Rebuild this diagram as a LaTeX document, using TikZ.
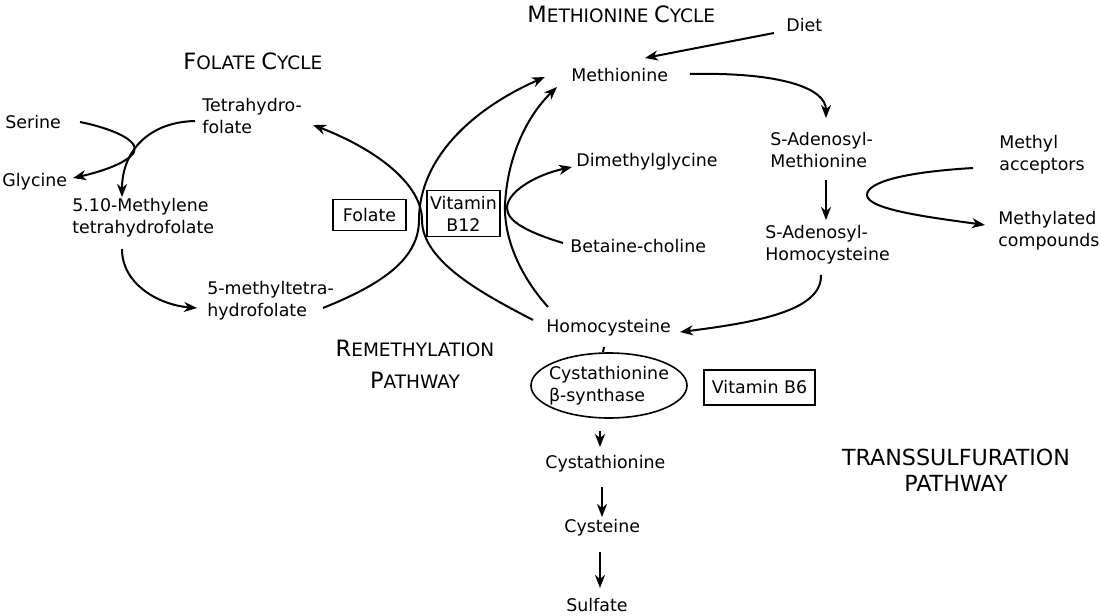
\documentclass[tikz,border=0pt]{standalone}
\usepackage{fontspec}
\setmainfont{DejaVu Sans}
\usetikzlibrary{arrows.meta,shapes.geometric}
\newcommand\bodyfont{\fontsize{8.7}{11}\selectfont}
\newcommand\mysc[2]{{\fontsize{11.25}{16}\selectfont #1}{\fontsize{9.25}{16}\selectfont #2}}
\begin{document}
\begin{tikzpicture}[x=0.5pt,y=-0.5pt,
  every node/.style={inner sep=0pt,font=\bodyfont},
  lbl/.style={anchor=west,align=left},
  boxed/.style={draw,line width=0.8pt,align=center},
  conn/.style={line width=1pt,-{Stealth[length=6.5pt,width=5pt,inset=2pt]}},
  plain/.style={line width=1pt},
  ttl/.style={anchor=west,align=center}]
\useasboundingbox (0,0) rectangle (1100,616);
% titles
\node[ttl] (tmet) at (527,14) {\mysc{M}{ETHIONINE} \mysc{C}{YCLE}};
\node[ttl] (tfol) at (183,61) {\mysc{F}{OLATE} \mysc{C}{YCLE}};
\node[align=center,font=\fontsize{9.25}{16}\selectfont] (trem) at (415,364) {\mysc{R}{EMETHYLATION}\\\mysc{P}{ATHWAY}};
\node[align=center,font=\fontsize{11.1}{13}\selectfont] (ttrans) at (956,470) {TRANSSULFURATION\\PATHWAY};
% nodes
\node[lbl] (diet) at (786,25) {Diet};
\node[lbl] (met) at (571,75) {Methionine};
\node[lbl] (sam) at (770,150) {S-Adenosyl-\\Methionine};
\node[lbl] (sah) at (765,245) {S-Adenosyl-\\Homocysteine};
\node[lbl] (macc) at (999,155) {Methyl\\acceptors};
\node[lbl] (mcomp) at (998,231) {Methylated\\compounds};
\node[lbl] (hcy) at (546,328) {Homocysteine};
\node[lbl] (dmg) at (576,162) {Dimethylglycine};
\node[lbl] (bet) at (570,246) {Betaine-choline};
\node[lbl] (ser) at (5,122) {Serine};
\node[lbl] (gly) at (2,182) {Glycine};
\node[lbl] (thf) at (202,116) {Tetrahydro-\\folate};
\node[lbl] (mthf) at (72,218) {5.10-Methylene\\tetrahydrofolate};
\node[lbl] (mtf) at (207,301) {5-methyltetra-\\hydrofolate};
\node[boxed,minimum width=36.5pt,minimum height=15.5pt] (fol) at (369.5,215) {Folate};
\node[boxed,minimum width=36.5pt,minimum height=23pt] (b12) at (463.5,213.5) {Vitamin\\B12};
\node[boxed,minimum width=55.5pt,minimum height=17.5pt] (b6) at (759.5,387.5) {Vitamin B6};
\node[draw,ellipse,line width=0.8pt,inner xsep=-2.4pt,inner ysep=1.5pt,minimum height=32.5pt,align=left] (cbs) at (609,385.5) {Cystathionine\\β-synthase};
\node[lbl] (cyst) at (545,464) {Cystathionine};
\node[lbl] (cys) at (564,528) {Cysteine};
\node[lbl] (sul) at (566,605) {Sulfate};
% methionine cycle
\draw[conn] ([shift={(-12,8)}]diet.west) -- ([shift={(74,-17)}]met.west);
\draw[conn] ([shift={(119,-1)}]met.west) .. controls (780,72) and (826,88) .. ([shift={(56,-32)}]sam.west);
\draw[conn] ([shift={(56,30)}]sam.west) -- ([shift={(61,-25)}]sah.west);
\draw[conn] ([shift={(-26,13)}]macc.west) .. controls (905,172) and (867,182) .. (867,195) .. controls (867,210) and (935,218) .. ([shift={(-13,-6)}]mcomp.west);
\draw[conn] ([shift={(56,30)}]sah.west) .. controls (822,310) and (760,322) .. ([shift={(134,4)}]hcy.west);
% transsulfuration
\draw[plain] ([shift={(58,19)}]hcy.west) -- ([shift={(-6,0)}]cbs.north);
\draw[conn] ([shift={(-9,12.5)}]cbs.south) -- ([shift={(55,-17)}]cyst.west);
\draw[conn] ([shift={(57,23)}]cyst.west) -- ([shift={(38,-11)}]cys.west);
\draw[conn] ([shift={(36,24)}]cys.west) -- ([shift={(34,-17)}]sul.west);
% folate cycle
\draw[conn] ([shift={(75,0)}]ser.west) .. controls (110,128) and (140,140) .. (134,152) .. controls (128,163) and (100,172) .. ([shift={(71,-4)}]gly.west);
\draw[conn] ([shift={(-7,5)}]thf.west) .. controls (150,122) and (122,150) .. ([shift={(50,-21)}]mthf.west);
\draw[conn] ([shift={(50,31)}]mthf.west) .. controls (122,285) and (160,305) .. ([shift={(-10,7)}]mtf.west);
% remethylation
\draw[conn] ([shift={(116,7)}]mtf.west) .. controls (380,285) and (419,260) .. (419,220) .. controls (419,160) and (470,110) .. ([shift={(-26,2)}]met.west);
\draw[conn] ([shift={(-13,-8)}]hcy.west) .. controls (485,295) and (422,262) .. (422,220) .. controls (422,185) and (378,150) .. ([shift={(111,9)}]thf.west);
\draw[conn] ([shift={(2,-21)}]hcy.west) .. controls (515,270) and (504,232) .. (505,205) .. controls (507,160) and (525,118) .. ([shift={(-14,12)}]met.west);
\draw[conn] ([shift={(-7,-3)}]bet.west) .. controls (530,233) and (507,222) .. (507,208) .. controls (507,192) and (535,175) .. ([shift={(-4,5)}]dmg.west);
\end{tikzpicture}
\end{document}
